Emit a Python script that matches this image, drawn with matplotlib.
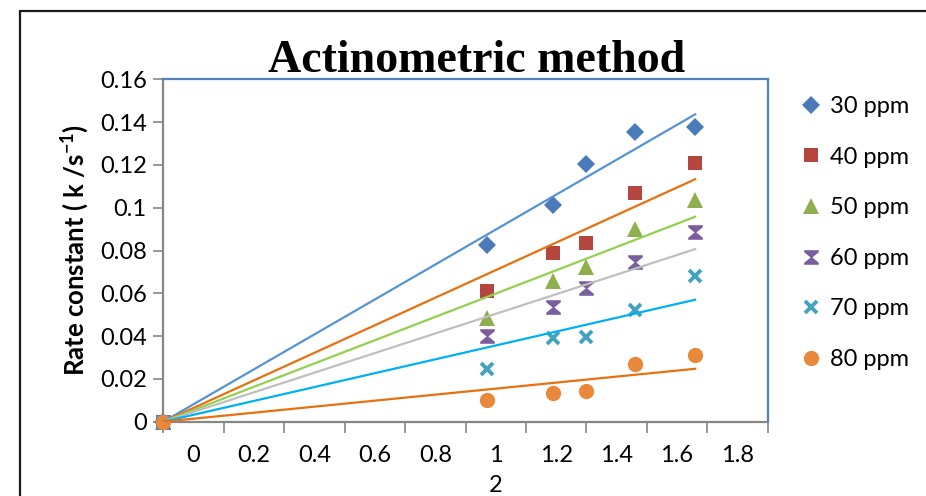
import numpy as np
import matplotlib
matplotlib.use("Agg")
import matplotlib.pyplot as plt
from matplotlib.path import Path
from matplotlib.lines import Line2D
from matplotlib.patches import Rectangle

plt.rcParams["font.family"] = ["Lato", "DejaVu Sans"]
plt.rcParams["mathtext.default"] = "regular"

# Photon dose (x) and measured rate constants for each concentration
dose = [0, 1.07, 1.29, 1.40, 1.56, 1.76]
k_30 = [0, 0.0826, 0.1013, 0.1203, 0.1352, 0.1376]
k_40 = [0, 0.0612, 0.0787, 0.0836, 0.1067, 0.1208]
k_50 = [0, 0.0483, 0.0658, 0.0724, 0.0899, 0.1036]
k_60 = [0, 0.0402, 0.0537, 0.0623, 0.0748, 0.0885]
k_70 = [0, 0.0245, 0.0390, 0.0397, 0.0522, 0.0682]
k_80 = [0, 0.0101, 0.0133, 0.0143, 0.0268, 0.0312]
series_names = ["30 ppm", "40 ppm", "50 ppm", "60 ppm", "70 ppm", "80 ppm"]

x_tick_labels = ["0", "0.2", "0.4", "0.6", "0.8", "1\n2", "1.2", "1.4", "1.6", "1.8"]
y_ticks = [0, 0.02, 0.04, 0.06, 0.08, 0.1, 0.12, 0.14, 0.16]
y_tick_labels = ["0", "0.02", "0.04", "0.06", "0.08", "0.1", "0.12", "0.14", "0.16"]

# hourglass marker with flat caps
hourglass = Path([(-1, 1), (1, 1), (1, 0.72), (0.12, 0), (1, -0.72), (1, -1),
                  (-1, -1), (-1, -0.72), (-0.12, 0), (-1, 0.72), (-1, 1)],
                 [Path.MOVETO] + [Path.LINETO] * 9 + [Path.CLOSEPOLY])

styles = [
    dict(marker="D", color="#4A7AB8", ms=9.5),
    dict(marker="s", color="#B5463F", ms=10.5),
    dict(marker="^", color="#8FAE4E", ms=11),
    dict(marker=hourglass, color="#7A5E9E", ms=10.5),
    dict(marker="x", color="#43A3BD", ms=9, mew=2.8),
    dict(marker="o", color="#E8883A", ms=11),
]
trend_colors = ["#5592D6", "#E8700F", "#92D050", "#BFBFBF", "#00B0F0", "#E8700F"]

fig = plt.figure(figsize=(9.26, 4.96), dpi=100)
ax = fig.add_axes([0.1764, 0.1498, 0.6526, 0.6903])

x = np.array(dose)
handles = []
for ys, st, tc, name in zip([k_30, k_40, k_50, k_60, k_70, k_80], styles, trend_colors, series_names):
    y = np.array(ys)
    h, = ax.plot(x, y, linestyle="none", marker=st["marker"], ms=st["ms"],
                 color=st["color"], mec=st["color"], mew=st.get("mew", 0),
                 clip_on=False, zorder=3, label=name)
    handles.append(h)
    # linear trend forced through the origin
    slope = np.sum(x * y) / np.sum(x * x)
    xl = np.array([0, x.max()])
    ax.plot(xl, slope * xl, color=tc, lw=1.6, zorder=4)

ax.set_xlim(0, 2.0)
ax.set_ylim(0, 0.16)
ax.set_xticks(np.arange(0, 2.01, 0.2))
ax.set_xticklabels([])
ax.set_xticks(np.arange(0.1, 2.0, 0.2), minor=True)
ax.set_xticklabels(x_tick_labels, minor=True, fontsize=17, va="top", linespacing=1.5)
ax.tick_params(axis="x", which="minor", length=0, pad=17)
ax.tick_params(axis="x", which="major", length=8, width=1.2, color="#868686", direction="out")
ax.set_yticks(y_ticks)
ax.set_yticklabels(y_tick_labels, fontsize=17)
ax.tick_params(axis="y", length=7, width=1.2, color="#868686", direction="out", pad=5)

for side in ("left", "bottom"):
    ax.spines[side].set_color("#868686")
    ax.spines[side].set_linewidth(1.6)
for side in ("top", "right"):
    ax.spines[side].set_color("#4F81BD")
    ax.spines[side].set_linewidth(1.6)

ax.set_ylabel("Rate constant ( k /s$^{-1}$)", fontsize=18.5, fontweight="bold", labelpad=6)

fig.text(0.515, 0.877, "Actinometric method", ha="center", va="center",
         fontsize=33, fontweight="bold", family=["Liberation Serif", "DejaVu Serif"])

leg_handles = []
for st in styles:
    leg_handles.append(Line2D([], [], linestyle="none", marker=st["marker"],
                              ms=st["ms"], color=st["color"], mec=st["color"],
                              mew=st.get("mew", 0)))
fig.legend(leg_handles, series_names, loc="upper left", bbox_to_anchor=(0.866, 0.806),
           frameon=False, fontsize=17, labelspacing=1.25, handlelength=0.8,
           handletextpad=0.4, borderaxespad=0, borderpad=0)

# chart frame
fig.patches.append(Rectangle((20 / 926, -0.2), 1.2, 1.2 - 11 / 496,
                             transform=fig.transFigure, fill=False, edgecolor="#1a1a1a",
                             linewidth=1.6, clip_on=False))

fig.savefig("out.png", dpi=100)
